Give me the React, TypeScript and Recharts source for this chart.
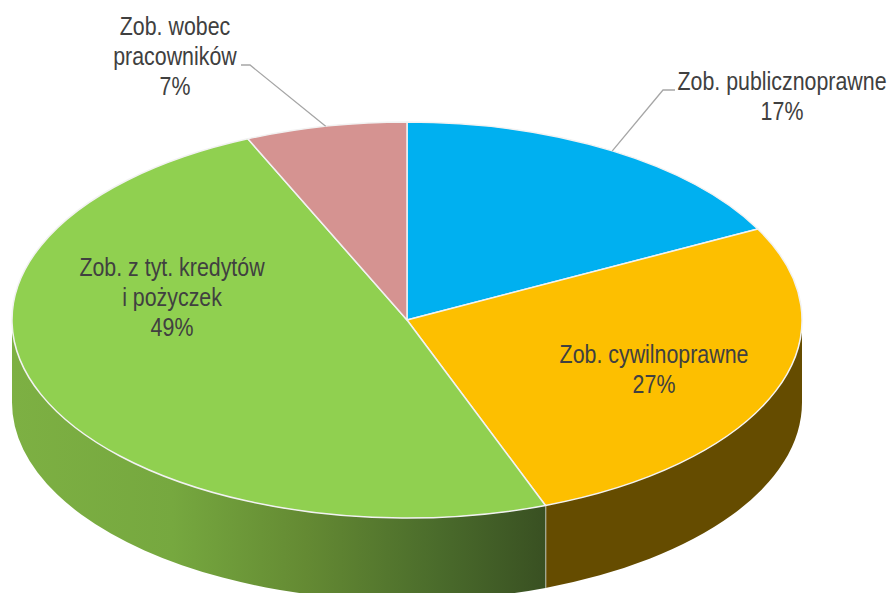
import React from "react";
import { PieChart, Pie } from "recharts";

const categories = ["Zob. publicznoprawne", "Zob. cywilnoprawne", "Zob. z tyt. kredytów i pożyczek", "Zob. wobec pracowników"];
const values = [17.4, 26.9, 49.1, 6.6];
const topColors = ["#00B0F0", "#FDBF00", "#90D050", "#D59391"];
const sideColors = ["#00B0F0", "#654C00", "url(#greenSide)", "#D99694"];
const labelLines = [
  ["Zob. publicznoprawne"],
  ["Zob. cywilnoprawne"],
  ["Zob. z tyt. kredytów", "i pożyczek"],
  ["Zob. wobec", "pracowników"],
];

const W = 891, H = 593, CX = 407, CY = 320, RX = 395, RY = 198, DEPTH = 82.5;
const SQUASH = RY / RX;
const labelAnchors = [
  { x: 782, y: 90 }, { x: 654, y: 363 }, { x: 172, y: 276 }, { x: 175, y: 35 },
];
const leaderElbows = [
  [{ x: 663, y: 90 }, { x: 675, y: 90 }],
  null,
  null,
  [{ x: 250, y: 65 }, { x: 241, y: 65 }],
];
const LINE_H = 30;
const TEXT_SCALE = 0.855;

const rad = (a: number) => (a * Math.PI) / 180;
const pt = (cx: number, cy: number, r: number, a: number) => ({
  x: cx + r * Math.cos(rad(a)),
  y: cy - r * SQUASH * Math.sin(rad(a)),
});

function Slice(p: any) {
  const { cx, cy, outerRadius: r, startAngle: s, endAngle: e, index, fill } = p;
  const a = pt(cx, cy, r, s);
  const b = pt(cx, cy, r, e);
  const large = Math.abs(e - s) > 180 ? 1 : 0;
  const rr = r * SQUASH;
  const top = `M${cx},${cy}L${a.x},${a.y}A${r},${rr} 0 ${large} 1 ${b.x},${b.y}Z`;
  const wallStart = Math.min(s, 0);
  const wallEnd = Math.max(e, -180);
  let wall: React.ReactNode = null;
  if (wallStart > wallEnd) {
    const w1 = pt(cx, cy, r, wallStart);
    const w2 = pt(cx, cy, r, wallEnd);
    const d =
      `M${w1.x},${w1.y}A${r},${rr} 0 0 1 ${w2.x},${w2.y}` +
      `L${w2.x},${w2.y + DEPTH}A${r},${rr} 0 0 0 ${w1.x},${w1.y + DEPTH}Z`;
    wall = <path d={d} fill={sideColors[index]} stroke="none" />;
  }
  const sep = e > -180 && e < 0 ? pt(cx, cy, r, e) : null;
  return (
    <g>
      {wall}
      {sep && <line x1={sep.x} y1={sep.y} x2={sep.x} y2={sep.y + DEPTH} stroke="#F2F2F2" strokeWidth={1.5} />}
      <path d={top} fill={fill} stroke="#F2F2F2" strokeWidth={1.5} strokeLinejoin="round" />
    </g>
  );
}

function SliceLabel(p: any) {
  const { cx, cy, outerRadius: r, midAngle, index, percent } = p;
  const anchor = labelAnchors[index];
  const lines = [...labelLines[index], `${Math.round(percent * 100)}%`];
  const elbow = leaderElbows[index];
  const start = pt(cx, cy, r, midAngle);
  return (
    <g>
      {elbow && (
        <polyline
          points={`${start.x},${start.y} ${elbow[0].x},${elbow[0].y} ${elbow[1].x},${elbow[1].y}`}
          fill="none"
          stroke="#A6A6A6"
          strokeWidth={1.3}
        />
      )}
      <text
        transform={`translate(${anchor.x} 0) scale(${TEXT_SCALE} 1)`}
        textAnchor="middle"
        fill="#404040"
        fontFamily="'Liberation Sans', Arial, sans-serif"
        fontSize={25}
      >
        {lines.map((t, i) => (
          <tspan key={i} x={0} y={anchor.y + i * LINE_H}>{t}</tspan>
        ))}
      </text>
    </g>
  );
}

const rows = categories.map((name, i) => ({ name, value: values[i], fill: topColors[i] }));

export default function App() {
  return (
    <div style={{ position: "absolute", left: 0, top: 0, width: W, height: H, background: "#fff" }}>
      <PieChart width={W} height={H} margin={{ top: 0, right: 0, bottom: 0, left: 0 }}>
        <defs>
          <linearGradient id="greenSide" gradientUnits="userSpaceOnUse" x1={12} y1={0} x2={546} y2={0}>
            <stop offset="0%" stopColor="#7DB043" />
            <stop offset="30%" stopColor="#76A83F" />
            <stop offset="55%" stopColor="#648A33" />
            <stop offset="80%" stopColor="#4A6B2B" />
            <stop offset="100%" stopColor="#395022" />
          </linearGradient>
        </defs>
        <Pie
          data={rows}
          dataKey="value"
          nameKey="name"
          cx={CX}
          cy={CY}
          innerRadius={0}
          outerRadius={RX}
          startAngle={90}
          endAngle={-270}
          paddingAngle={0}
          stroke="none"
          isAnimationActive={false}
          shape={Slice}
          label={SliceLabel}
          labelLine={false}
        />
      </PieChart>
    </div>
  );
}
